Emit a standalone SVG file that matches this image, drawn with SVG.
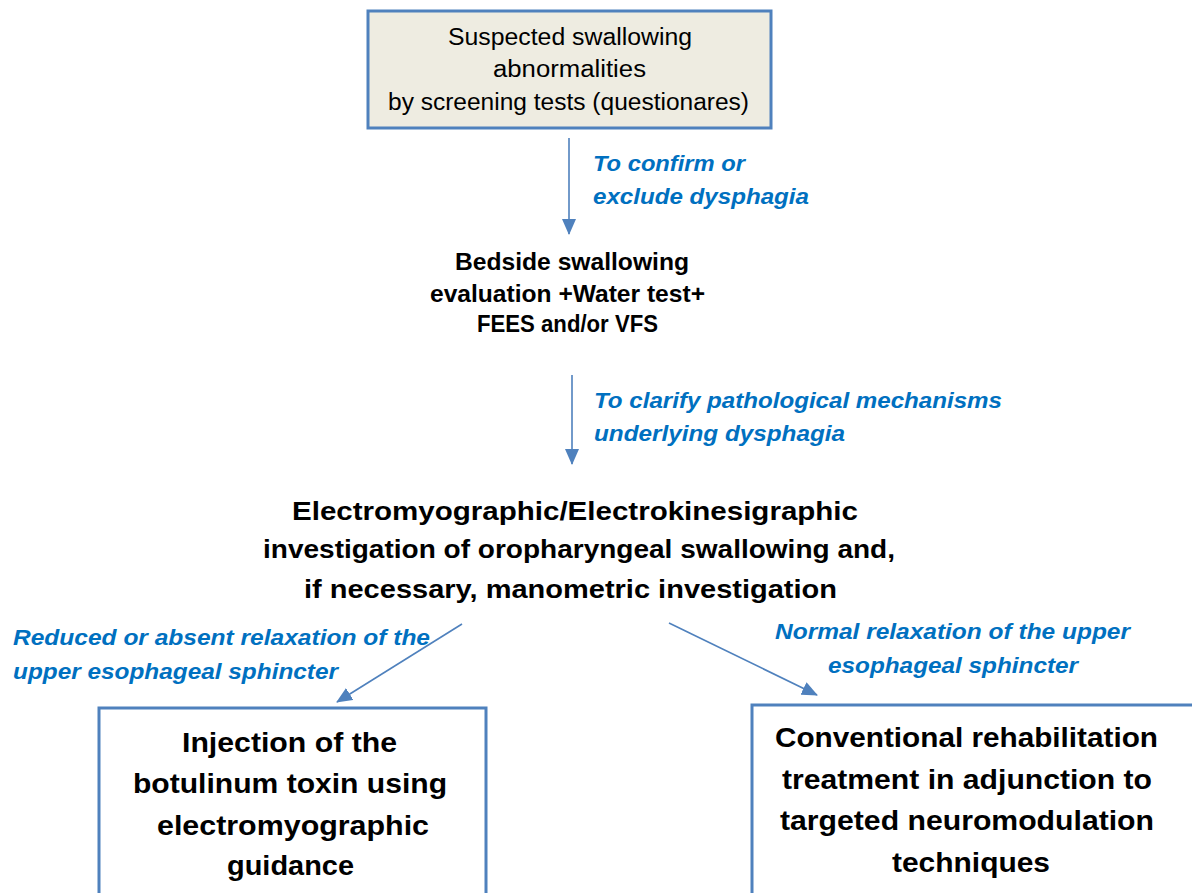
<svg xmlns="http://www.w3.org/2000/svg" width="1192" height="893" viewBox="0 0 1192 893">
<defs>
<style>
.box{stroke:#4f81bd;stroke-width:3;}
.t{font-family:"Liberation Sans",Arial,sans-serif;fill:#000;}
.b{font-weight:bold;}
.lbl{font-family:"Liberation Sans",Arial,sans-serif;font-style:italic;font-weight:bold;fill:#0070c0;font-size:22px;}
.con{stroke:#4f81bd;stroke-width:1.6;fill:none;}
</style>
<marker id="ah" viewBox="0 0 16 14" refX="15" refY="7" markerWidth="16" markerHeight="14" markerUnits="userSpaceOnUse" orient="auto">
<path d="M0,0 L16,7 L0,14 Z" fill="#4f81bd"/>
</marker>
</defs>
<rect width="1192" height="893" fill="#fff"/>
<g id="n1">
<rect class="box" x="368" y="11" width="403" height="117" fill="#eeece1"/>
<text class="t" font-size="23" lengthAdjust="spacingAndGlyphs"><tspan x="448" y="45" textLength="244" lengthAdjust="spacingAndGlyphs">Suspected swallowing</tspan><tspan x="493" y="77" textLength="153" lengthAdjust="spacingAndGlyphs">abnormalities</tspan><tspan x="388" y="110" textLength="361" lengthAdjust="spacingAndGlyphs">by screening tests (questionares)</tspan></text>
</g>
<g id="n2">
<text class="t b" font-size="24"><tspan x="455" y="270" textLength="234" lengthAdjust="spacingAndGlyphs">Bedside swallowing</tspan><tspan x="430" y="302" textLength="275" lengthAdjust="spacingAndGlyphs">evaluation +Water test+</tspan><tspan x="477" y="332" textLength="181" lengthAdjust="spacingAndGlyphs">FEES and/or VFS</tspan></text>
</g>
<g id="n3">
<text class="t b" font-size="26"><tspan x="292" y="520" textLength="566" lengthAdjust="spacingAndGlyphs">Electromyographic/Electrokinesigraphic</tspan><tspan x="263" y="558" textLength="632" lengthAdjust="spacingAndGlyphs">investigation of oropharyngeal swallowing and,</tspan><tspan x="304" y="598" textLength="533" lengthAdjust="spacingAndGlyphs">if necessary, manometric investigation</tspan></text>
</g>
<g id="n4">
<rect class="box" x="99" y="708" width="387" height="200" fill="#fff"/>
<text class="t b" font-size="28"><tspan x="182" y="752" textLength="215" lengthAdjust="spacingAndGlyphs">Injection of the</tspan><tspan x="133" y="793" textLength="314" lengthAdjust="spacingAndGlyphs">botulinum toxin using</tspan><tspan x="157" y="835" textLength="272" lengthAdjust="spacingAndGlyphs">electromyographic</tspan><tspan x="227" y="875" textLength="127" lengthAdjust="spacingAndGlyphs">guidance</tspan></text>
</g>
<g id="n5">
<rect class="box" x="752" y="705" width="460" height="200" fill="#fff"/>
<text class="t b" font-size="28"><tspan x="775" y="747" textLength="383" lengthAdjust="spacingAndGlyphs">Conventional rehabilitation</tspan><tspan x="782" y="789" textLength="370" lengthAdjust="spacingAndGlyphs">treatment in adjunction to</tspan><tspan x="780" y="830" textLength="374" lengthAdjust="spacingAndGlyphs">targeted neuromodulation</tspan><tspan x="892" y="872" textLength="158" lengthAdjust="spacingAndGlyphs">techniques</tspan></text>
</g>
<g id="connectors">
<line class="con" x1="569" y1="138" x2="569" y2="234" marker-end="url(#ah)"/>
<line class="con" x1="572" y1="375" x2="572" y2="464" marker-end="url(#ah)"/>
<line class="con" x1="462" y1="624" x2="337" y2="702" marker-end="url(#ah)"/>
<line class="con" x1="669" y1="623" x2="817" y2="695" marker-end="url(#ah)"/>
</g>
<g id="labels">
<text class="lbl"><tspan x="593" y="171" textLength="152" lengthAdjust="spacingAndGlyphs">To confirm or</tspan><tspan x="593" y="204" textLength="216" lengthAdjust="spacingAndGlyphs">exclude dysphagia</tspan></text>
<text class="lbl"><tspan x="594" y="408" textLength="408" lengthAdjust="spacingAndGlyphs">To clarify pathological mechanisms</tspan><tspan x="594" y="441" textLength="251" lengthAdjust="spacingAndGlyphs">underlying dysphagia</tspan></text>
<text class="lbl"><tspan x="13" y="645" textLength="417" lengthAdjust="spacingAndGlyphs">Reduced or absent relaxation of the</tspan><tspan x="13" y="679" textLength="325" lengthAdjust="spacingAndGlyphs">upper esophageal sphincter</tspan></text>
<text class="lbl"><tspan x="775" y="639" textLength="355" lengthAdjust="spacingAndGlyphs">Normal relaxation of the upper</tspan><tspan x="828" y="673" textLength="250" lengthAdjust="spacingAndGlyphs">esophageal sphincter</tspan></text>
</g>
</svg>
